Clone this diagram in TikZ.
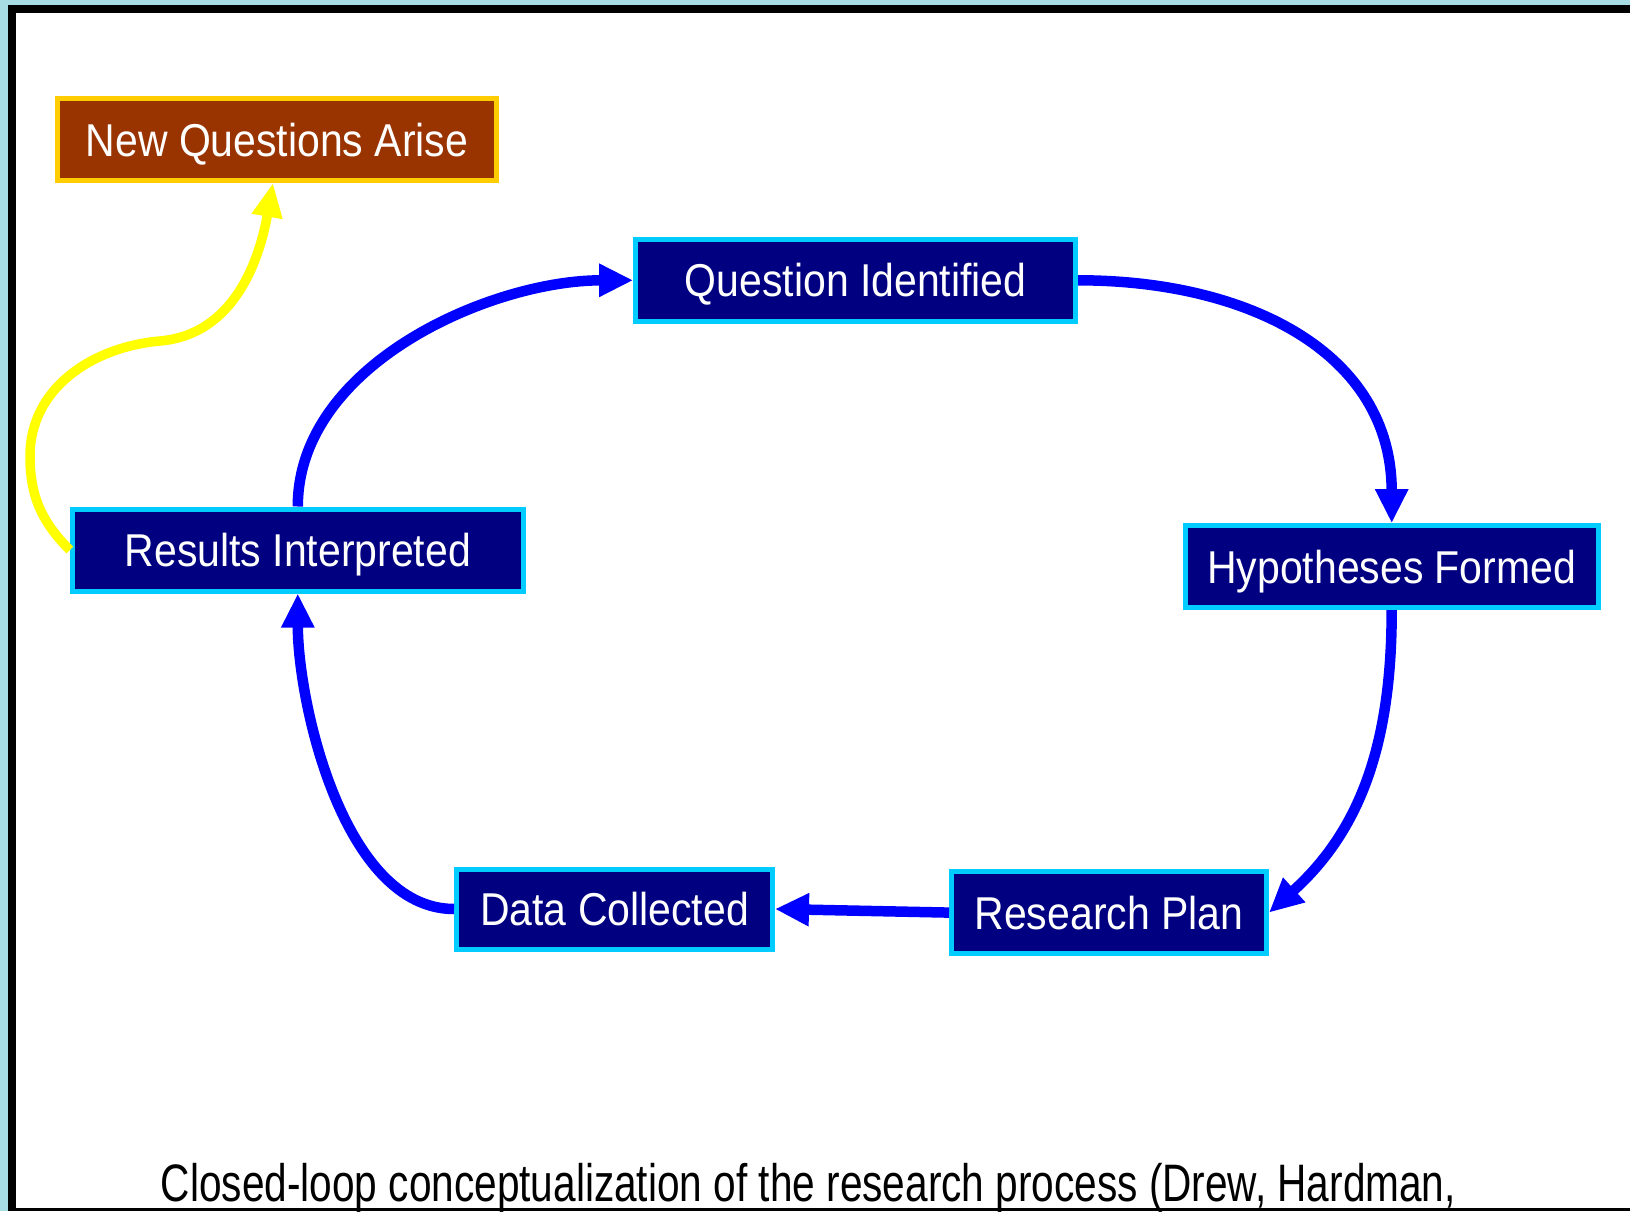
\documentclass[tikz,border=0pt]{standalone}
\usepackage{fontspec}
\setmainfont{Liberation Sans}[FakeStretch=0.89]
\newfontfamily\capfont{Liberation Sans}[FakeStretch=0.77]
\usetikzlibrary{arrows.meta}

\definecolor{navybox}{HTML}{000080}
\definecolor{cyanrim}{HTML}{00CCFF}
\definecolor{rustbox}{HTML}{993300}
\definecolor{goldrim}{HTML}{FFCC00}
\definecolor{loopblue}{HTML}{0000FF}
\definecolor{sparkyellow}{HTML}{FFFF00}
\definecolor{slidebg}{HTML}{A8DCE4}

\tikzset{
  stagebox/.style={draw=cyanrim,fill=navybox,line width=0.05cm,text=white,
    inner sep=0pt,minimum height=0.82cm,text height=0.33cm,text depth=0pt,
    font=\fontsize{13.1pt}{15pt}\selectfont},
  newqbox/.style={stagebox,draw=goldrim,fill=rustbox},
  cycleline/.style={-{Triangle[length=0.34cm,width=0.31cm]},loopblue,line width=0.105cm},
  sparkline/.style={-{Triangle[length=0.34cm,width=0.29cm]},sparkyellow,line width=0.095cm}
}

\begin{document}
\begin{tikzpicture}
\clip (0,0) rectangle (16.3,12.11);
%% slide frame
\fill[slidebg] (0,0) rectangle (16.3,12.11);
\fill[black] (0.08,0) rectangle (16.3,12.06);
\fill[white] (0.16,0.03) rectangle (16.3,11.98);
%% stages of the loop
\node[newqbox,minimum width=4.39cm] (nq) at (2.77,10.715) {New Questions Arise};
\node[stagebox,minimum width=4.40cm] (qi) at (8.557,9.307) {Question Identified};
\node[stagebox,minimum width=4.13cm] (hf) at (13.917,6.443) {Hypotheses Formed};
\node[stagebox,minimum width=4.51cm] (ri) at (2.978,6.61) {Results Interpreted};
\node[stagebox,minimum width=3.16cm,minimum height=0.80cm] (dc) at (6.145,3.02) {Data Collected};
\node[stagebox,minimum width=3.15cm] (rp) at (11.09,2.984) {Research Plan};
%% closed loop
\draw[cycleline] (ri.north) to[out=90,in=180,looseness=0.9] (qi.west);
\draw[cycleline] (qi.east) to[out=0,in=90,looseness=1.1] (hf.north);
\draw[cycleline] (hf.south) to[out=-90,in=42] (rp.east);
\draw[cycleline] (rp.west) -- (dc.east);
\draw[cycleline] (dc.west) to[out=180,in=-90,looseness=0.8] (ri.south);
%% way out of the loop
\coordinate (kink) at (0.3,7.55);
\coordinate (hump) at (1.6,8.7);
\draw[sparkline] (ri.west) to[out=135,in=-90] (kink) to[out=90,in=185] (hump)
  to[out=5,in=-100] ([xshift=-0.04cm]nq.south);
%% caption
\node[anchor=base,inner sep=0pt,font=\capfont\fontsize{15pt}{18pt}\selectfont] (cap) at (8.085,0.10)
  {Closed-loop conceptualization of the research process (Drew, Hardman,};
\end{tikzpicture}
\end{document}
